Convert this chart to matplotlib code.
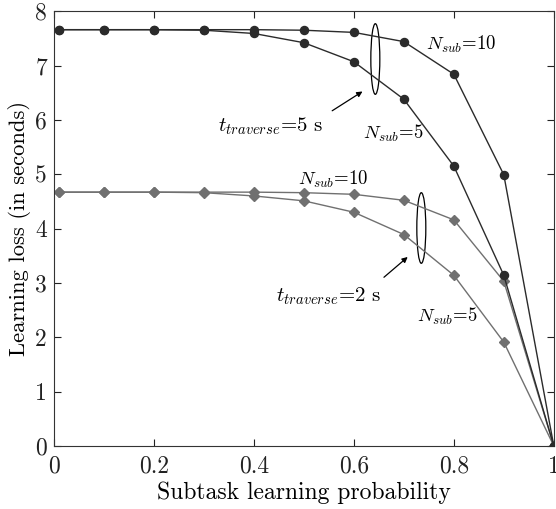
import matplotlib
matplotlib.use("Agg")
import matplotlib.pyplot as plt
from matplotlib.patches import Ellipse

# --- data ---
prob = [0.01, 0.1, 0.2, 0.3, 0.4, 0.5, 0.6, 0.7, 0.8, 0.9, 1.0]
loss_5s_n10 = [7.66, 7.66, 7.66, 7.66, 7.66, 7.65, 7.61, 7.44, 6.84, 4.99, 0.0]
loss_5s_n5 = [7.66, 7.66, 7.66, 7.65, 7.59, 7.42, 7.07, 6.38, 5.15, 3.14, 0.0]
loss_2s_n10 = [4.67, 4.67, 4.67, 4.67, 4.67, 4.66, 4.63, 4.52, 4.16, 3.03, 0.0]
loss_2s_n5 = [4.67, 4.67, 4.67, 4.66, 4.60, 4.51, 4.30, 3.89, 3.14, 1.91, 0.0]

x_ticks = [0, 0.2, 0.4, 0.6, 0.8, 1]
x_ticklabels = ["0", "0.2", "0.4", "0.6", "0.8", "1"]
y_ticks = [0, 1, 2, 3, 4, 5, 6, 7, 8]

dark = "#2b2b2b"
grey = "#707070"

plt.rcParams["font.family"] = ["cmr10", "DejaVu Serif"]
plt.rcParams["mathtext.fontset"] = "cm"
plt.rcParams["axes.unicode_minus"] = False

fig = plt.figure(figsize=(5.56, 5.09), dpi=100)
ax = fig.add_axes([0.097, 0.124, 0.899, 0.854])

ax.plot(prob, loss_5s_n10, color=dark, lw=1.0, marker="o", ms=5.8, zorder=3)
ax.plot(prob, loss_5s_n5, color=dark, lw=1.0, marker="o", ms=5.8, zorder=3)
ax.plot(prob, loss_2s_n10, color=grey, lw=1.0, marker="D", ms=4.8, zorder=2)
ax.plot(prob, loss_2s_n5, color=grey, lw=1.0, marker="D", ms=4.8, zorder=2)

# ellipses grouping the curve pairs
ax.add_patch(Ellipse((0.643, 7.12), 0.018, 1.3, fill=False, ec="black", lw=0.9))
ax.add_patch(Ellipse((0.735, 4.01), 0.018, 1.3, fill=False, ec="black", lw=0.9))

arrow = dict(arrowstyle="-|>", color="black", lw=0.9, mutation_scale=8)
ax.annotate("", xy=(0.622, 6.55), xytext=(0.552, 6.14), arrowprops=arrow)
ax.annotate("", xy=(0.712, 3.51), xytext=(0.656, 3.07), arrowprops=arrow)

tsize = 15
nsize = 13.5
ax.text(0.434, 5.88, r"$t_{traverse}$=5 s", ha="center", va="center", fontsize=tsize)
ax.text(0.550, 2.75, r"$t_{traverse}$=2 s", ha="center", va="center", fontsize=tsize)
ax.text(0.815, 7.39, r"$N_{sub}$=10", ha="center", va="center", fontsize=nsize)
ax.text(0.679, 5.76, r"$N_{sub}$=5", ha="center", va="center", fontsize=nsize)
ax.text(0.558, 4.91, r"$N_{sub}$=10", ha="center", va="center", fontsize=nsize)
ax.text(0.787, 2.38, r"$N_{sub}$=5", ha="center", va="center", fontsize=nsize)

ax.set_xlim(0, 1)
ax.set_ylim(0, 8)
ax.set_xticks(x_ticks)
ax.set_xticklabels(x_ticklabels)
ax.set_yticks(y_ticks)
ax.tick_params(direction="in", top=True, right=True, length=5, width=0.8,
               labelsize=17, colors="#222222")
ax.tick_params(axis="x", pad=7)
ax.tick_params(axis="y", pad=5)
for s in ax.spines.values():
    s.set_linewidth(0.8)
    s.set_color("#333333")

ax.set_xlabel("Subtask learning probability", fontsize=17, labelpad=3)
ax.set_ylabel("Learning loss (in seconds)", fontsize=16.3, labelpad=3)

fig.savefig("out.png", dpi=100)
